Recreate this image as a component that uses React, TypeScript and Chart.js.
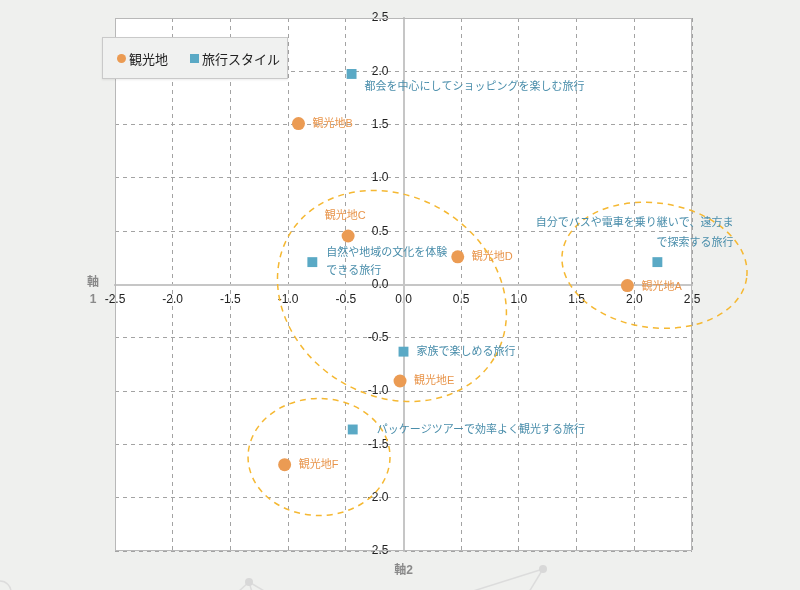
import React, { useEffect, useRef } from 'react';
import { Chart, registerables } from 'chart.js';

Chart.register(...registerables);

// ---- data ----
const spotNames = ['観光地A', '観光地B', '観光地C', '観光地D', '観光地E', '観光地F'];
const spotX = [1.94, -0.91, -0.48, 0.47, -0.03, -1.03];
const spotY = [-0.01, 1.51, 0.455, 0.26, -0.905, -1.69];

const styleNames = [
  ['都会を中心にしてショッピングを楽しむ旅行'],
  ['自然や地域の文化を体験', 'できる旅行'],
  ['自分でバスや電車を乗り継いで、遠方ま', 'で探索する旅行'],
  ['家族で楽しめる旅行'],
  ['パッケージツアーで効率よく観光する旅行'],
];
const styleX = [-0.45, -0.79, 2.2, 0.0, -0.44];
const styleY = [1.975, 0.21, 0.21, -0.63, -1.36];

const axisMin = -2.5;
const axisMax = 2.5;
const axisStep = 0.5;

const legendLabels = ['観光地', '旅行スタイル'];
const xTitle = '軸2';
const yTitle = ['軸', '1'];

// cluster outlines (data units; radii in x-axis units)
const clusterCx = [-0.1, 2.175, -0.732];
const clusterCy = [-0.108, 0.18, -1.618];
const clusterRx = [1.036, 0.806, 0.615];
const clusterRy = [0.864, 0.54, 0.507];
const clusterRot = [0.55, 0.136, 0.0];

// ---- styles ----
const FONT = "'Liberation Sans', 'Noto Sans CJK JP', sans-serif";
const ORANGE = '#eb9b53';
const ORANGE_TEXT = '#e8944a';
const BLUE = '#5aa9c5';
const BLUE_TEXT = '#4a8eab';
const ELLIPSE = '#f5b832';
const PAGE_BG = '#eff0ee';

type LabelPos = { dx: number; dy: number; align: CanvasTextAlign; lh?: number };
const spotLabelPos: LabelPos[] = [
  { dx: 14, dy: 1, align: 'left' },
  { dx: 14, dy: 0, align: 'left' },
  { dx: -3, dy: -20, align: 'center' },
  { dx: 14, dy: 0, align: 'left' },
  { dx: 14, dy: 0, align: 'left' },
  { dx: 14, dy: 0, align: 'left' },
];
const styleLabelPos: LabelPos[] = [
  { dx: 13, dy: 13, align: 'left' },
  { dx: 14, dy: -9, align: 'left', lh: 18 },
  { dx: 76, dy: -39, align: 'right', lh: 20 },
  { dx: 13, dy: 0, align: 'left' },
  { dx: 24, dy: 0, align: 'left' },
];

const decorPlugin = {
  id: 'decor',
  beforeDraw(chart: any) {
    const { ctx, chartArea: a } = chart;
    ctx.save();
    ctx.fillStyle = '#ffffff';
    ctx.fillRect(a.left, a.top, a.right - a.left, a.bottom - a.top);
    // faint network decoration at the bottom
    ctx.strokeStyle = '#dcdcdc';
    ctx.fillStyle = '#d8d8d8';
    ctx.lineWidth = 1.5;
    const segs = [
      [249, 582, 238, 592],
      [249, 582, 266, 592],
      [249, 582, 252, 592],
      [543, 569, 470, 592],
      [543, 569, 529, 592],
    ];
    segs.forEach(([x1, y1, x2, y2]) => {
      ctx.beginPath();
      ctx.moveTo(x1, y1);
      ctx.lineTo(x2, y2);
      ctx.stroke();
    });
    [[249, 582], [543, 569]].forEach(([x, y]) => {
      ctx.beginPath();
      ctx.arc(x, y, 4, 0, Math.PI * 2);
      ctx.fill();
    });
    ctx.beginPath();
    ctx.arc(0, 592, 11, 0, Math.PI * 2);
    ctx.stroke();
    ctx.restore();
  },
  afterDatasetsDraw(chart: any) {
    const { ctx, chartArea: a, scales } = chart;
    const xs = scales.x;
    const ys = scales.y;
    const ppu = Math.abs(xs.getPixelForValue(1) - xs.getPixelForValue(0));
    ctx.save();
    // frame
    ctx.strokeStyle = '#b8b8b8';
    ctx.lineWidth = 1;
    ctx.strokeRect(a.left + 0.5, a.top + 0.5, a.right - a.left - 1, a.bottom - a.top - 1);

    // cluster ellipses
    ctx.strokeStyle = ELLIPSE;
    ctx.lineWidth = 1.5;
    ctx.setLineDash([6, 5]);
    clusterCx.forEach((cx, i) => {
      ctx.beginPath();
      ctx.ellipse(
        xs.getPixelForValue(cx),
        ys.getPixelForValue(clusterCy[i]),
        clusterRx[i] * ppu,
        clusterRy[i] * ppu,
        clusterRot[i],
        0,
        Math.PI * 2
      );
      ctx.stroke();
    });
    ctx.setLineDash([]);

    // point labels
    ctx.font = `11px ${FONT}`;
    ctx.textBaseline = 'middle';
    const m0 = chart.getDatasetMeta(0);
    m0.data.forEach((pt: any, i: number) => {
      const p = spotLabelPos[i];
      ctx.fillStyle = ORANGE_TEXT;
      ctx.textAlign = p.align;
      ctx.fillText(spotNames[i], pt.x + p.dx, pt.y + p.dy);
    });
    const m1 = chart.getDatasetMeta(1);
    m1.data.forEach((pt: any, i: number) => {
      const p = styleLabelPos[i];
      ctx.fillStyle = BLUE_TEXT;
      ctx.textAlign = p.align;
      styleNames[i].forEach((line, j) => {
        ctx.fillText(line, pt.x + p.dx, pt.y + p.dy + j * (p.lh || 0));
      });
    });

    // axis titles
    ctx.fillStyle = '#8a8a8a';
    ctx.font = `bold 12px ${FONT}`;
    ctx.textAlign = 'center';
    ctx.fillText(xTitle, (a.left + a.right) / 2, a.bottom + 20);
    const cy = (a.top + a.bottom) / 2;
    yTitle.forEach((t, j) => {
      ctx.fillText(t, a.left - 22, cy - 2 + j * 17);
    });
    ctx.restore();
  },
};

const tickFmt = (v: any) => Number(v).toFixed(1);

export default function App() {
  const ref = useRef<HTMLCanvasElement | null>(null);

  useEffect(() => {
    if (!ref.current) return;
    const chart = new Chart(ref.current, {
      type: 'scatter',
      data: {
        datasets: [
          {
            label: legendLabels[0],
            data: spotX.map((x, i) => ({ x, y: spotY[i] })),
            pointStyle: 'circle',
            pointRadius: 6.5,
            pointHoverRadius: 6.5,
            backgroundColor: ORANGE,
            borderWidth: 0,
          },
          {
            label: legendLabels[1],
            data: styleX.map((x, i) => ({ x, y: styleY[i] })),
            pointStyle: 'rect',
            pointRadius: 7,
            pointHoverRadius: 7,
            backgroundColor: BLUE,
            borderWidth: 0,
          },
        ],
      },
      options: {
        responsive: false,
        animation: false,
        layout: { padding: { left: 115, right: 108, top: 18, bottom: 39 } },
        plugins: { legend: { display: false }, tooltip: { enabled: false } },
        scales: {
          x: {
            type: 'linear',
            position: 'center',
            min: axisMin,
            max: axisMax,
            ticks: {
              stepSize: axisStep,
              callback: tickFmt,
              color: '#222',
              font: { size: 12, family: FONT },
              padding: 8,
              maxRotation: 0,
              autoSkip: false,
            },
            grid: { color: '#a3a3a3', lineWidth: 1, drawTicks: false },
            border: { color: '#c6c6c6', width: 2, dash: [4, 4] },
          },
          y: {
            type: 'linear',
            position: 'center',
            min: axisMin,
            max: axisMax,
            ticks: {
              stepSize: axisStep,
              callback: tickFmt,
              color: '#222',
              font: { size: 12, family: FONT },
              padding: 8,
              autoSkip: false,
            },
            grid: {
              color: '#a3a3a3',
              lineWidth: 1,
              drawTicks: true,
              tickLength: 7,
              tickColor: 'rgba(0,0,0,0)',
            },
            border: { color: '#c6c6c6', width: 2, dash: [4, 4] },
          },
        },
      },
      plugins: [decorPlugin],
    } as any);
    return () => chart.destroy();
  }, []);

  return (
    <div
      style={{
        position: 'absolute',
        left: 0,
        top: 0,
        width: 800,
        height: 590,
        background: PAGE_BG,
        overflow: 'hidden',
        fontFamily: FONT,
      }}
    >
      <canvas ref={ref} width={800} height={590} style={{ display: 'block', width: 800, height: 590 }} />
      <div
        style={{
          position: 'absolute',
          left: 102,
          top: 37,
          width: 186,
          height: 42,
          boxSizing: 'border-box',
          background: '#f0f1f0',
          border: '1px solid #c9c9c9',
          boxShadow: '0 1px 2px rgba(0,0,0,0.08)',
          display: 'flex',
          alignItems: 'center',
          paddingLeft: 14,
          fontSize: 13,
          color: '#222',
          whiteSpace: 'nowrap',
        }}
      >
        <span
          style={{ width: 9, height: 9, borderRadius: '50%', background: ORANGE, display: 'inline-block', marginRight: 3 }}
        />
        <span style={{ marginRight: 22 }}>{legendLabels[0]}</span>
        <span style={{ width: 9, height: 9, background: BLUE, display: 'inline-block', marginRight: 3 }} />
        <span>{legendLabels[1]}</span>
      </div>
    </div>
  );
}
